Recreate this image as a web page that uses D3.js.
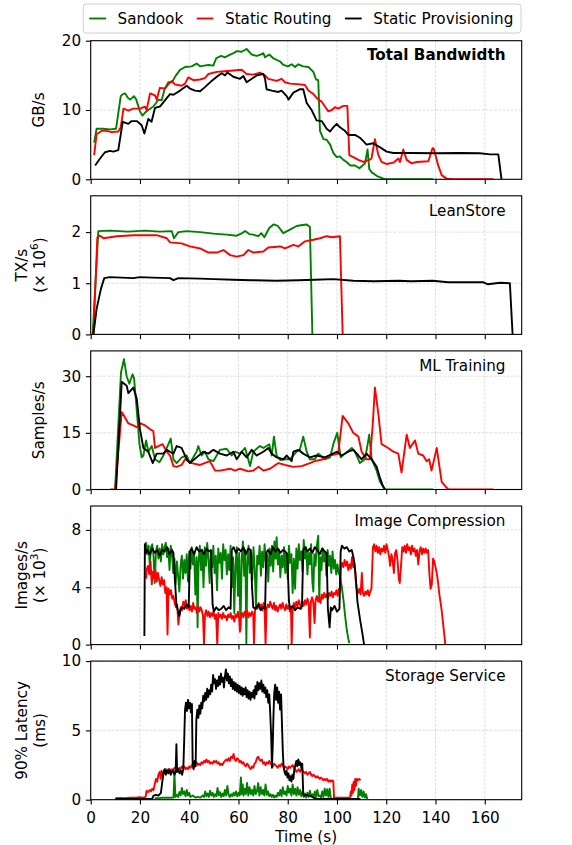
<!DOCTYPE html>
<html>
<head>
<meta charset="utf-8">
<script src="https://cdn.jsdelivr.net/npm/d3@7"></script>
<style>
  body { margin: 0; background: #fff; }
  svg { font-family: "DejaVu Sans", sans-serif; }
</style>
</head>
<body>
<div id="chart"></div>
<script>
// ---- data: [time (s), value] ----
const seriesNames = ["Sandook", "Static Routing", "Static Provisioning"]
const seriesColors = ["green", "red", "black"]
const xTicks = [0, 20, 40, 60, 80, 100, 120, 140, 160]

// Total Bandwidth (GB/s)
const bwSandook = [[1.4,5.3],[2.4,7.3],[5,7.3],[8,7.2],[10.3,7.3],[11.2,9.5],[12.2,12],[13,12.3],[14,12.4],[15,11.8],[16,11.5],[17.6,12],[18.5,11.5],[20,9.8],[21,9.2],[22,9.6],[23.4,10],[25.4,10.5],[26.5,11],[27.5,11.5],[28.8,11.4],[30,13],[31.5,14],[33,14],[34.6,15],[36.3,15.8],[38.3,16.2],[41,16.3],[43,16.7],[44.4,16.3],[46,16.4],[47.8,16.5],[49.8,16.4],[51,17.5],[53,17.8],[54.5,17.6],[56.6,18],[58,18.2],[59.3,18.5],[61.3,18.4],[63.3,18.8],[65.4,18],[67.4,17.8],[69,18],[70.1,18.2],[70.8,17.6],[72.5,18],[74,17.5],[76.9,17],[78.2,16.5],[80.2,16.3],[81.6,16.6],[83,16.2],[84.3,16.6],[86.3,16.3],[88.4,16.2],[90.4,15.5],[91.5,14.4],[92.4,14.3],[93.1,7],[94.5,5.8],[95.8,5.7],[97.2,5],[98.5,3.8],[99.9,3.2],[101.2,3.3],[102.6,2.8],[103.9,2.5],[105.3,2.0],[107.3,2.0],[109.1,1.6],[110.4,2.0],[111.4,2.3],[112.4,4.3],[113.1,1.5],[114.1,1.0],[116.1,0.5],[118.8,0.1],[120.2,0],[139,0]]
const bwRouting = [[1.4,3.5],[2.4,6.5],[4.5,7],[6.5,7],[8.5,6.8],[11.2,6.9],[12.2,7.5],[13.3,10.2],[15.3,9.9],[17.3,10.2],[20,10.2],[22,10.5],[22.7,10],[24.1,12.4],[26.1,12.1],[26.8,11.5],[28.1,13.2],[30.2,13.1],[31.5,13.7],[32.9,14.2],[34.2,13.7],[36.9,13.5],[38.3,13.8],[39.6,14.7],[41.7,14.3],[44.4,14.4],[46.4,14.6],[47.8,15.2],[51.2,15.5],[54.5,15.6],[57.9,15.7],[61.3,15.8],[63.3,15.2],[66,15.1],[68.7,15.4],[70.8,15],[72.1,14.5],[75.5,14.2],[77.5,14.5],[78.9,14],[80.9,13.8],[85,13.7],[87,13.6],[88.4,12.8],[90.4,12.3],[92.4,11.5],[93.8,11.2],[95.1,10.5],[96.5,9.8],[97.9,10],[99.2,10.4],[100.5,10.2],[102.6,10.6],[104.2,10.6],[105,3.5],[106.6,3.2],[108.7,2.8],[110.7,2.5],[113.1,2.8],[114,3],[115.4,5.8],[116.8,3.5],[118.1,2.5],[120.2,2.2],[122.9,2.4],[124.9,3.0],[125.6,2.5],[126.9,4.3],[128.3,2.8],[130.3,2.3],[132.3,2.5],[137.1,2.6],[138.8,4.5],[139.3,4.4],[141.1,2],[142.5,0.6],[144.5,0.1],[147.3,0],[163.5,0]]
const bwProvisioning = [[1.8,2.0],[3.8,3.0],[5.8,3.9],[7.8,4.1],[9.2,4.0],[11.2,4.2],[13,8.3],[15.3,8.0],[16.6,8.4],[18.7,8.4],[20.7,7.8],[21.8,6.6],[23.4,8.7],[24.7,8.3],[26.1,10.3],[28.1,10.5],[32.2,12.3],[33.6,12.2],[36.3,12.8],[39,13.5],[40.3,13.1],[42.4,12.8],[44.4,12.7],[46.4,13.3],[49.1,14.2],[51.2,14.8],[53.2,15.3],[54.5,15],[55.5,15.4],[57.9,14.8],[60.6,14.5],[62,14.9],[63.3,14],[65.4,14.5],[67.4,15],[70.1,15.2],[70.8,14.5],[71.4,13],[73.5,12.8],[76.2,12.6],[77.5,12.8],[79.6,12],[80.3,11.5],[82.3,12.5],[85,13],[86.3,13],[87.7,11],[89.7,10],[91.7,8.5],[93.8,8.4],[95.8,7.3],[97.2,6.9],[98.5,7.5],[99.9,8.0],[101.2,7.5],[103.2,7.0],[104.6,6.4],[107.3,6.4],[109.3,6.0],[110.7,5.5],[112,5.0],[114.7,5.2],[117.5,4.6],[120.2,4.0],[122.9,3.8],[130,3.8],[140,3.75],[150,3.8],[158,3.75],[162.1,3.6],[165.5,3.6],[166.8,0]]

// LeanStore (TX/s, x 10^6)
const lsSandook = [[0.8,0],[3.1,2.02],[8,2.03],[15,2.01],[22,2.03],[28,2.01],[32.9,2.02],[33.8,1.88],[35.6,2.0],[39,2.02],[44.4,2.0],[49.8,1.97],[55.2,1.95],[59.3,1.93],[61.5,1.98],[62.7,2.02],[64.5,1.96],[66,1.95],[68,1.92],[69.3,1.98],[70.5,1.9],[72.5,2.08],[74.2,2.15],[76,2.12],[78.2,1.98],[80.9,2.05],[83.6,2.12],[86,2.14],[87.7,2.15],[89,2.1],[90,0]]
const lsRouting = [[1.1,0],[2.7,1.9],[3.8,1.93],[5.2,1.88],[10.6,1.92],[17.3,1.94],[26.8,1.94],[30.9,1.88],[32.2,1.8],[36.9,1.78],[40.3,1.72],[44.4,1.68],[47.8,1.6],[51.2,1.6],[53.9,1.65],[56.6,1.55],[59.3,1.52],[62,1.55],[64,1.65],[66,1.6],[70.1,1.62],[72.1,1.7],[76.9,1.72],[78.9,1.68],[82.3,1.75],[84.3,1.72],[87,1.82],[90.4,1.85],[93.1,1.88],[95.8,1.92],[97.9,1.9],[101.2,1.92],[102.3,0]]
const lsProvisioning = [[1.1,0],[2.4,0.5],[4.2,0.9],[5.5,1.1],[7.8,1.12],[17.3,1.1],[20,1.12],[25,1.11],[32.2,1.1],[33.6,1.06],[35.6,1.1],[44.4,1.09],[50,1.08],[57.9,1.07],[65,1.06],[75.5,1.05],[84.3,1.06],[91,1.07],[98.5,1.08],[106.6,1.05],[115,1.04],[125,1.05],[130,1.04],[139,1.05],[145,1.02],[159.3,1.02],[161.3,0.98],[166.2,1.01],[170.2,1.0],[171.3,0]]

// ML Training (Samples/s)
const mlSandook = [[7.8,0],[9.9,0],[12.3,31],[13.5,34.5],[14.6,30],[15.7,28],[17,30.5],[17.6,29.5],[18.7,21],[19.8,12],[20.7,8.5],[21.4,9],[22.5,13],[23.4,10],[24.8,11.5],[26.1,8],[27.9,7.2],[29.5,9],[30.9,11],[32.5,13.5],[33.6,8],[34.9,7],[37,8.5],[39,9],[40.3,7],[43,10],[43.7,11.5],[45,9],[46.4,10],[47.8,8],[49.8,7.5],[52.5,10.5],[55.2,10.8],[57.2,9],[58.6,10],[60.6,9.5],[62.7,11],[64.7,6.2],[66,10],[68.7,11.5],[70.1,11],[72.5,12],[73.5,9],[74.4,14],[75.5,9],[76.9,7.8],[78.9,8],[80.9,8],[83.6,10],[84.9,10.5],[86.3,14],[87.7,10],[89,8],[91,8],[92.4,9.5],[95.1,8],[97.2,8.5],[98.5,12],[100.1,15],[101.5,8.5],[103.2,9.5],[106,11],[107.3,10],[109.3,7],[111.4,8],[113.1,14.5],[114.1,8],[116.1,5],[117.5,2],[119.5,0],[139,0]]
const mlRouting = [[9.9,0],[12.6,20.5],[14,19],[15.3,17.5],[17.3,17],[18.7,16.5],[20.3,17.5],[22,17],[24,16],[25.4,15.5],[26.1,11],[27.5,11.5],[29.2,12],[30.9,10],[32.2,9],[33.6,6.2],[34.9,6],[36.9,6.5],[38.3,8],[41,7],[44.4,6.5],[48.4,7.5],[50.5,5],[52.5,5],[56.6,5.5],[58.6,5],[60.6,5.5],[64,4.8],[66,5],[68.1,6],[70.1,5],[72.8,5.5],[76.2,7],[78.9,6.5],[82.3,6],[85.7,6.2],[89,7],[91,7.5],[94.4,8],[97.2,9],[100.5,9.5],[102.3,19.5],[104.6,17.5],[106.6,15],[108.7,14],[110,10],[112,8],[113.4,8],[114.5,17],[115.4,27],[116.8,20],[118.1,12],[120.8,11],[122.9,10],[124.9,9.5],[126.2,4.5],[128.3,14.5],[129.6,11],[131.7,13],[133,9.5],[135,9],[136.4,7.5],[137.4,8],[138.4,5],[140.5,11],[142.5,2],[143.8,1],[145.2,0],[163.5,0]]
const mlProvisioning = [[10.3,0],[12.6,28.5],[14.6,27.5],[15.3,25.5],[17.3,27],[18.7,24],[20,16],[21.4,11],[23.4,10],[25.2,7],[26.8,9.5],[29.5,9.5],[30.9,10.5],[32.2,10],[33.6,9.5],[34.9,11.5],[36.9,11],[39,8],[40.3,7],[43,8.5],[45.7,10],[47.8,9.5],[49.8,10.5],[52.5,9.5],[55.2,9],[57.9,10],[59.3,8],[61.3,10],[63.3,8.5],[65.4,10.5],[67.4,9],[70.1,10],[72.1,11],[73.5,9.5],[75.5,8.5],[78.2,8],[79.6,9],[81.6,7.5],[82.3,10],[84.3,10.5],[86.3,9.5],[89,8.5],[91.7,9],[95.1,8.5],[99.9,10],[101.9,9],[104.6,10],[106.6,10.5],[108.7,9],[110,8],[112,9.5],[114.1,8],[116.1,6],[117.5,3],[118.6,1],[119.5,0]]

// Image Compression (Images/s, x 10^3)
const icSandook = [[22,6.8],[22.5,7.1],[23,6.3],[23.5,6.9],[24,5.5],[24.5,6.8],[25,7.0],[25.5,6.2],[26,4.3],[26.5,6.5],[27,6.9],[27.5,6.0],[28,6.7],[28.5,5.8],[29,7.0],[29.5,6.3],[30,6.8],[30.5,7.1],[31,6.1],[31.5,6.7],[32,5.2],[32.5,6.9],[33,6.4],[33.5,5.0],[34,6.0],[34.5,4.2],[35,5.8],[35.5,4.8],[36,3.7],[36.5,5.5],[37,6.2],[37.5,4.6],[38,5.9],[38.5,5.0],[39,6.3],[39.5,4.4],[40,6.5],[40.5,5.3],[41,6.8],[41.5,5.6],[42,6.4],[42.5,3.5],[43,6.1],[43.4,1.2],[43.8,5.8],[44.3,6.9],[44.8,5.2],[45.3,6.6],[45.8,4.0],[46.3,6.8],[46.8,5.5],[47.3,7.1],[47.8,6.0],[48.3,4.3],[48.8,6.5],[49.3,5.4],[49.8,6.9],[50.3,5.0],[50.8,6.2],[51.3,3.8],[51.8,6.7],[52.3,5.7],[52.8,6.4],[53.3,4.6],[53.8,7.0],[54.3,5.9],[54.8,6.6],[55.3,4.9],[55.8,6.3],[56.3,5.2],[56.8,6.9],[57.3,4.0],[57.8,6.1],[58.3,2.2],[58.8,5.6],[59.3,6.8],[59.8,3.4],[60.3,6.4],[60.8,1.0],[61.3,5.9],[61.8,7.2],[62.3,4.8],[62.8,6.6],[63.2,0],[63.6,5.5],[64.1,6.9],[64.6,5.0],[65.1,6.4],[65.6,4.5],[66.1,6.8],[66.6,5.3],[67.1,2.6],[67.6,6.2],[68.1,5.6],[68.6,6.9],[69.1,4.8],[69.6,6.5],[70.1,5.4],[70.6,7.0],[71.1,5.8],[71.6,6.3],[72.1,4.4],[72.6,6.7],[73.1,5.5],[73.6,6.9],[74.1,5.1],[74.6,7.2],[75.1,6.0],[75.5,7.5],[76,5.6],[76.5,6.6],[77,4.7],[77.5,6.2],[78,5.4],[78.5,6.8],[79,5.0],[79.5,6.4],[80,4.6],[80.5,6.9],[81,5.7],[81.5,6.3],[82,3.6],[82.5,6.0],[83,3.9],[83.5,6.7],[84,5.3],[84.5,7.0],[85,5.9],[85.5,6.5],[86,5.1],[86.5,7.3],[87,6.0],[87.5,6.8],[88,4.9],[88.5,6.4],[89,5.6],[89.5,7.0],[90,4.4],[90.4,3.7],[90.8,6.3],[91.3,5.5],[91.8,6.9],[92.4,7.6],[92.8,3.0],[93.2,6.1],[93.7,5.2],[94.2,6.7],[94.7,5.8],[95.2,6.4],[95.7,4.8],[96.2,6.6],[96.7,5.5],[97.2,6.2],[97.7,5.0],[98.2,6.5],[98.7,5.3],[99.2,5.9],[99.7,4.9],[100.2,5.6],[100.7,5.0],[101.2,4.8],[102,4.0],[102.7,3.0],[103.3,2.0],[104,1.0],[104.6,0.4],[105,0.1]]
const icRouting = [[22.5,4.6],[22.8,5.3],[23.3,5.5],[23.8,4.9],[24.3,5.8],[24.8,4.2],[25.3,5.1],[25.8,4.6],[26.3,5.2],[26.8,4.4],[27.3,5.0],[27.8,4.5],[28.3,4.1],[28.8,4.7],[29.3,4.2],[29.8,4.5],[30.3,3.6],[30.8,4.0],[31.2,0.7],[31.6,3.9],[32.1,3.5],[32.6,3.8],[33.1,3.2],[33.6,3.4],[34.1,2.9],[34.6,2.6],[35.1,2.8],[35.6,1.4],[36.1,2.3],[36.6,2.6],[37.1,2.4],[37.6,3.0],[38.1,2.7],[38.6,3.1],[39.1,2.5],[39.6,2.8],[40.1,2.4],[40.6,2.7],[41.1,2.3],[41.6,2.9],[42.1,2.5],[42.6,2.6],[43.1,2.2],[43.6,2.7],[44.1,2.3],[44.6,2.6],[45.1,2.4],[45.6,2.0],[46.0,0],[46.4,2.1],[46.9,2.4],[47.4,2.0],[47.9,2.3],[48.4,1.9],[48.9,2.2],[49.4,2.0],[49.9,2.3],[50.4,1.8],[50.9,2.1],[51.4,0],[51.8,2.2],[52.3,1.9],[52.8,2.1],[53.3,1.8],[53.8,2.2],[54.3,1.9],[54.8,2.0],[55.3,1.7],[55.8,2.1],[56.3,1.9],[56.8,2.2],[57.3,1.8],[57.8,2.0],[58.3,1.6],[58.8,2.1],[59.3,1.9],[59.8,2.3],[60.3,1.8],[60.6,0.9],[61,2.0],[61.5,2.2],[62,1.9],[62.5,2.3],[63,2.0],[63.5,2.4],[64,1.9],[64.5,2.2],[65,2.0],[65.5,2.3],[66,2.1],[66.3,0],[66.7,2.4],[67.2,2.7],[67.7,2.5],[68.2,2.9],[68.7,2.6],[69.2,2.8],[69.7,2.4],[70.2,2.9],[70.6,2.6],[71,0],[71.4,2.5],[71.9,2.8],[72.4,2.6],[72.9,3.0],[73.4,2.7],[73.9,2.5],[74.4,2.9],[74.9,2.4],[75.4,2.7],[75.9,2.3],[76.4,2.6],[76.9,2.8],[77.4,2.5],[77.9,2.9],[78.4,2.6],[78.9,2.4],[79.4,2.8],[79.9,2.5],[80.4,2.7],[80.9,2.3],[81.3,2.6],[81.6,0],[82,2.5],[82.5,2.9],[83,2.6],[83.5,3.0],[84,2.7],[84.5,3.1],[85,2.8],[85.5,2.5],[86,3.0],[86.5,2.7],[87,3.1],[87.5,2.8],[88,3.2],[88.5,2.9],[89,0.5],[89.4,3.0],[89.9,3.3],[90.4,2.9],[90.9,1.5],[91.3,3.1],[91.8,3.4],[92.3,3.0],[92.8,3.3],[93.3,2.9],[93.8,3.5],[94.3,3.2],[94.8,3.6],[95.3,3.3],[95.8,3.5],[96.3,3.2],[96.8,3.6],[97.3,3.4],[97.8,3.7],[98.3,3.3],[98.8,3.6],[99.3,3.5],[99.8,3.8],[100.3,3.4],[100.8,3.9],[101.3,3.7],[101.6,5.4],[102.1,5.7],[102.6,5.4],[103.1,5.9],[103.6,5.5],[104.1,5.8],[104.6,5.2],[105.1,5.6],[105.6,5.3],[106.1,6.1],[106.6,5.4],[107.1,5.7],[107.6,4.5],[108.1,3.8],[108.6,3.6],[109.1,3.9],[109.6,3.5],[110.1,5.0],[110.5,3.6],[111,3.4],[111.5,3.7],[112,3.5],[112.5,3.8],[113,3.4],[113.5,3.7],[114,3.9],[114.6,6.8],[115.1,7.0],[115.6,6.5],[116.1,6.9],[116.6,6.4],[117.1,6.8],[117.6,6.3],[118.1,6.7],[118.6,6.5],[119.1,6.9],[119.6,6.4],[120.1,7.0],[120.6,6.6],[121.1,6.2],[121.6,5.5],[122.1,6.3],[122.6,5.9],[123.1,5.0],[123.6,6.4],[124.1,6.6],[124.6,5.8],[125.1,4.6],[125.5,4.3],[126,5.5],[126.5,6.8],[127,6.5],[127.5,6.9],[128,6.4],[128.5,7.0],[129,6.6],[129.5,6.8],[130,6.3],[130.5,6.9],[131,6.5],[131.5,6.7],[132,6.2],[132.5,6.6],[133,5.6],[133.5,6.5],[134,6.8],[134.5,6.3],[135,6.7],[135.5,6.4],[136,6.7],[136.5,6.4],[137,6.6],[137.5,5.0],[138,3.9],[138.5,4.2],[139,6.0],[139.5,5.8],[140,5.4],[140.5,5.0],[141,4.4],[141.5,3.6],[142,3.0],[142.5,2.4],[143,1.6],[143.5,0.8],[144,0]]
const icProvisioning = [[21.8,0.6],[22.0,7.0],[22.5,6.4],[23,6.6],[24,6.3],[25,6.7],[26,6.4],[27,6.6],[28,6.2],[29,6.6],[30,6.5],[31,6.8],[32,6.3],[33,6.6],[33.6,6.4],[34.2,4.5],[34.8,2.8],[35.5,2.3],[36,2.0],[36.5,2.4],[37,2.6],[38,2.5],[39,2.8],[39.8,2.6],[40.3,6.5],[41,6.7],[42,6.3],[43,6.8],[44,6.5],[45,6.6],[46,6.3],[47,6.7],[48,6.5],[48.8,6.6],[49.5,2.8],[50,2.3],[51,2.6],[52,2.4],[53,2.5],[54,2.7],[55,2.4],[56,2.6],[56.8,2.5],[57.3,6.6],[58,6.8],[59,6.4],[60,6.7],[61,6.5],[62,6.8],[63,6.3],[64,6.7],[65,6.6],[65.5,4.0],[66,2.6],[67,2.5],[68,2.8],[69,2.4],[70,2.6],[70.8,2.5],[71.3,6.4],[72,6.6],[73,6.3],[74,6.8],[75,6.5],[76,6.7],[77,6.4],[78,6.6],[79,6.5],[79.8,6.3],[80.5,3.0],[81,2.5],[82,2.7],[83,2.4],[84,2.6],[85,2.5],[85.8,2.7],[86.3,6.6],[87,6.8],[88,6.5],[89,6.7],[90,6.4],[91,6.8],[92,6.6],[93,6.3],[94,6.7],[95,6.5],[95.8,6.4],[96.3,2.5],[97,1.2],[97.5,2.6],[98,2.4],[99,2.7],[100,2.3],[101,2.5],[101.5,6.5],[102,6.9],[103,6.7],[104,6.8],[105,6.5],[106,6.6],[106.8,6.0],[107.5,5.0],[108.3,3.0],[109.5,1.6],[110.3,0.8],[111,0]]

// Storage Service (90% latency, ms)
const ssSandook = [[26,0.1],[28,0.12],[30,0.15],[32,0.14],[33.6,0.15],[34,1.9],[34.4,0.2],[35,0.35],[35.5,0.2],[36,0.55],[36.5,0.3],[37,0.85],[37.5,0.4],[38,0.6],[38.5,0.25],[39,0.7],[39.5,0.3],[40,0.5],[40.5,0.2],[41.5,0.3],[42.5,0.15],[43.5,0.2],[44.5,0.15],[45.5,0.3],[46,0.2],[46.5,0.6],[47,0.25],[47.5,0.45],[48,0.2],[48.5,0.65],[49,0.3],[49.5,0.5],[50,0.2],[50.5,0.4],[51,0.25],[51.5,0.85],[52,0.3],[52.5,0.55],[53,0.2],[53.5,0.45],[54,0.25],[54.5,0.7],[55,0.3],[55.5,1.0],[56,0.35],[56.5,0.2],[57,0.4],[57.5,0.25],[58,0.5],[58.5,0.3],[59,0.6],[59.5,0.25],[60,0.5],[60.5,0.3],[61,1.6],[61.3,0.4],[61.7,1.1],[62.1,0.3],[62.5,0.8],[63,0.4],[63.5,1.2],[64,0.3],[64.5,0.9],[65,0.4],[65.5,0.7],[66,0.3],[66.5,1.0],[67,0.4],[67.5,0.6],[68,1.2],[68.5,0.3],[69,0.9],[69.5,0.4],[70,0.7],[70.5,0.3],[71,1.1],[71.5,0.35],[72,0.6],[72.5,0.25],[73,0.4],[73.5,0.2],[74,0.35],[74.5,0.15],[75,0.3],[75.5,0.2],[76,0.5],[76.5,0.3],[77,0.7],[77.5,0.25],[78,0.9],[78.5,0.4],[79,0.6],[79.5,0.3],[80,1.0],[80.5,0.5],[81,0.8],[81.5,0.3],[82,1.1],[82.5,0.4],[83,0.8],[83.5,0.3],[84,0.9],[84.5,0.35],[85,0.7],[85.5,0.25],[86,0.6],[86.5,0.2],[87,0.45],[87.5,0.15],[88,0.5],[88.5,0.2],[89,0.65],[89.5,0.25],[90,0.4],[90.5,0.15],[91,0.6],[91.5,0.2],[92,0.7],[92.5,0.25],[93,0.3],[93.5,0.15],[94,0.6],[94.5,0.2],[95,0.8],[95.5,0.3],[96,0.75],[96.5,0.2],[97,0.8],[97.5,0.1],[98,0.05],[103,0.05],[108.5,0.05],[108.8,0.8],[109.3,0.3],[109.8,0.7],[110.3,0.2],[110.8,0.6],[111.3,0.15],[111.8,0.4],[112.3,0.05]]
const ssRouting = [[10,0.1],[12,0.12],[14,0.1],[16,0.14],[18,0.15],[20,0.18],[21,0.15],[22.3,0.2],[22.7,0.65],[23.3,0.55],[24,0.7],[24.5,0.6],[25,0.8],[25.5,0.7],[26,1.1],[26.5,1.5],[27,1.3],[27.5,1.8],[28,2.0],[28.4,1.5],[28.8,2.1],[29.2,1.8],[29.6,2.0],[30,1.9],[30.5,2.2],[31,2.0],[31.5,2.2],[32,2.1],[32.5,2.0],[33,2.2],[33.5,2.1],[34,2.3],[34.5,2.2],[35,2.3],[35.5,2.1],[36,2.3],[36.5,2.2],[37,2.4],[37.5,2.3],[38,2.4],[38.5,2.2],[39,2.3],[39.5,2.2],[40,2.4],[40.5,2.3],[41,2.5],[41.5,2.3],[42,2.4],[42.5,2.6],[43,2.7],[43.5,2.5],[44,2.6],[44.5,2.5],[45,2.7],[45.5,2.6],[46,2.8],[46.5,2.7],[47,2.9],[47.5,2.7],[48,2.8],[48.5,2.6],[49,2.7],[49.5,2.6],[50,2.8],[50.5,2.7],[51,2.8],[51.5,2.6],[52,2.7],[52.5,2.5],[53,2.6],[53.5,2.5],[54,2.7],[54.5,2.8],[55,2.9],[55.5,2.8],[56,3.0],[56.5,2.8],[57,3.1],[57.5,3.0],[58,3.3],[58.5,2.9],[59,2.8],[59.5,3.0],[60,2.9],[60.5,2.7],[61,2.8],[61.5,2.6],[62,2.7],[62.5,2.5],[63,2.4],[63.5,2.6],[64,2.5],[64.5,2.3],[65,2.2],[65.5,2.4],[66,2.3],[66.5,2.6],[67,2.7],[67.5,3.0],[68,3.1],[68.5,2.9],[69,2.8],[69.5,2.9],[70,2.6],[70.5,2.7],[71,2.5],[71.5,2.7],[72,2.6],[72.5,2.8],[73,2.6],[73.5,2.5],[74,2.4],[74.5,2.6],[75,2.5],[75.5,2.4],[76,2.3],[76.5,2.5],[77,2.4],[77.5,2.6],[78,2.5],[78.5,2.3],[79,2.4],[79.5,2.3],[80,2.2],[80.5,2.4],[81,2.3],[81.5,2.4],[82,2.5],[82.5,2.3],[83,2.2],[83.5,2.0],[84,2.1],[84.5,2.2],[85,2.0],[85.5,2.2],[86,2.1],[86.5,2.0],[87,1.9],[87.5,2.0],[88,1.8],[88.5,1.9],[89,2.0],[89.5,1.8],[90,1.7],[90.5,1.8],[91,1.7],[91.5,1.6],[92,1.7],[92.5,1.6],[93,1.5],[93.5,1.6],[94,1.5],[94.5,1.4],[95,1.5],[95.5,1.4],[96,1.5],[96.5,1.3],[97,1.4],[97.5,1.3],[98,1.4],[98.5,1.35],[98.8,0.15],[100,0.14],[102,0.15],[104,0.14],[105.3,0.15],[105.6,0.6],[105.9,0.3],[106.2,1.1],[106.5,0.5],[106.8,1.3],[107.1,0.7],[107.4,1.5],[107.7,1.0],[108,1.5],[108.5,1.4],[109,1.5],[109.6,1.4]]
const ssProvisioning = [[10,0.05],[15,0.05],[20,0.05],[25,0.08],[25.5,0.3],[26.5,0.35],[27.5,0.3],[28.5,0.5],[29,1.2],[29.5,1.9],[30,2.2],[30.5,1.8],[31,2.1],[31.5,1.9],[32,2.2],[32.5,1.8],[33,2.0],[33.5,2.1],[34,1.8],[34.5,2.0],[34.8,4.0],[35.1,2.0],[35.6,2.2],[36.1,1.9],[36.6,2.1],[37.1,1.8],[37.6,2.2],[38,4.5],[38.3,6.5],[38.7,7.0],[39.1,6.4],[39.5,7.2],[39.9,6.6],[40.3,7.0],[40.7,6.3],[41.1,6.9],[41.4,2.6],[41.8,2.2],[42.2,2.8],[42.6,2.4],[42.9,5.8],[43.3,6.5],[43.7,5.9],[44.1,6.8],[44.5,6.2],[44.9,7.0],[45.3,6.6],[45.7,7.5],[46.1,7.1],[46.5,7.7],[46.9,7.2],[47.3,8.0],[47.7,7.4],[48.1,7.9],[48.5,7.6],[48.9,8.3],[49.3,7.8],[49.7,9.0],[50.1,8.4],[50.5,8.7],[50.9,8.0],[51.3,8.6],[51.7,8.2],[52.1,8.9],[52.5,8.3],[52.9,9.1],[53.3,8.5],[53.7,8.8],[54.1,8.1],[54.5,8.9],[54.9,9.4],[55.3,8.6],[55.7,9.1],[56.1,8.4],[56.5,8.9],[56.9,8.2],[57.3,8.7],[57.7,8.0],[58.1,8.5],[58.5,7.9],[58.9,8.4],[59.3,7.8],[59.7,8.3],[60.1,7.7],[60.5,8.2],[60.9,7.6],[61.3,8.1],[61.7,7.5],[62.1,8.0],[62.5,7.6],[62.9,8.1],[63.3,7.4],[63.7,7.9],[64.1,7.3],[64.5,7.8],[64.9,7.2],[65.3,7.7],[65.7,7.4],[66.1,7.9],[66.5,7.3],[66.9,8.2],[67.3,7.6],[67.7,8.5],[68.1,7.9],[68.5,8.4],[68.9,8.0],[69.3,8.6],[69.7,7.8],[70.1,8.3],[70.5,7.7],[70.9,8.1],[71.3,7.4],[71.7,7.9],[72.1,7.0],[72.5,7.6],[72.9,6.2],[73.3,4.5],[73.6,2.3],[73.9,3.8],[74.2,6.0],[74.5,7.6],[74.9,8.3],[75.3,7.2],[75.7,8.1],[76.1,7.0],[76.5,7.8],[76.9,6.5],[77.3,7.6],[77.7,5.2],[78,3.5],[78.3,2.4],[78.7,2.0],[79.1,1.8],[79.5,2.1],[79.9,1.6],[80.3,1.9],[80.7,1.4],[81.1,1.7],[81.5,1.3],[81.9,1.8],[82.3,1.5],[82.7,2.2],[83.1,2.5],[83.5,2.8],[83.9,2.4],[84.3,2.9],[84.7,2.5],[85.1,2.7],[85.5,2.3],[85.9,2.6],[86.3,0.4],[86.8,0.3],[87.5,0.35],[88.5,0.3],[89.5,0.25],[90.5,0.15],[91.5,0.08],[93,0.05],[100,0.05],[109.5,0.05]]

// y tick labels per panel
const yTicksBW = [0, 10, 20]
const yTicksLS = [0, 1, 2]
const yTicksML = [0, 15, 30]
const yTicksIC = [0, 4, 8]
const yTicksSS = [0, 5, 10]

// ---- layout ----
const W = 572, H = 845
const left = 90.7, right = 521.7
const top0 = 40.7, step = 155.1, ph = 138.6
const fs = 15.2

const panels = [
  {title: "Total Bandwidth", bold: true, label: ["GB/s"], yMax: 20, ticks: yTicksBW, series: [bwSandook, bwRouting, bwProvisioning]},
  {title: "LeanStore", label: ["TX/s", "6"], yMax: 2.71, ticks: yTicksLS, series: [lsSandook, lsRouting, lsProvisioning]},
  {title: "ML Training", label: ["Samples/s"], yMax: 36.7, ticks: yTicksML, series: [mlSandook, mlRouting, mlProvisioning]},
  {title: "Image Compression", label: ["Images/s", "3"], yMax: 9.67, ticks: yTicksIC, series: [icSandook, icRouting, icProvisioning]},
  {title: "Storage Service", label: ["90% Latency", "ms"], yMax: 10, ticks: yTicksSS, series: [ssSandook, ssRouting, ssProvisioning]}
]

const svg = d3.select("#chart").append("svg")
  .attr("width", W).attr("height", H)
  .style("background", "#fff")

const x = d3.scaleLinear().domain([0, 175]).range([left, right])

panels.forEach(function(p, i) {
  const top = top0 + i * step
  const bottom = top + ph
  const y = d3.scaleLinear().domain([0, p.yMax]).range([bottom, top])
  const g = svg.append("g")

  // grid
  g.append("g").selectAll("line.gx").data(xTicks).join("line")
    .attr("x1", d => x(d)).attr("x2", d => x(d))
    .attr("y1", top).attr("y2", bottom)
    .attr("stroke", "#b0b0b0").attr("stroke-opacity", 0.5)
    .attr("stroke-width", 0.8).attr("stroke-dasharray", "2.9,1.3")
  g.append("g").selectAll("line.gy").data(p.ticks).join("line")
    .attr("x1", left).attr("x2", right)
    .attr("y1", d => y(d)).attr("y2", d => y(d))
    .attr("stroke", "#b0b0b0").attr("stroke-opacity", 0.5)
    .attr("stroke-width", 0.8).attr("stroke-dasharray", "2.9,1.3")

  // lines
  const clipId = "clip" + i
  svg.append("clipPath").attr("id", clipId).append("rect")
    .attr("x", left).attr("y", top - 1).attr("width", right - left).attr("height", ph + 1)
  const line = d3.line().x(d => x(d[0])).y(d => y(d[1]))
  g.append("g").attr("clip-path", "url(#" + clipId + ")")
    .selectAll("path").data(p.series).join("path")
    .attr("d", line)
    .attr("fill", "none")
    .attr("stroke", (d, k) => seriesColors[k])
    .attr("stroke-width", 1.9)
    .attr("stroke-linejoin", "round")

  // axes
  const yAxis = d3.axisLeft(y).tickValues(p.ticks).tickFormat(d3.format("d"))
    .tickSize(4.8).tickPadding(4.7)
  const xAxis = d3.axisBottom(x).tickValues(xTicks).tickFormat(d3.format("d"))
    .tickSize(4.8).tickPadding(7.6)
  const ya = g.append("g").attr("transform", "translate(" + left + ",0)").call(yAxis)
  const xa = g.append("g").attr("transform", "translate(0," + bottom + ")").call(xAxis)
  if (i < panels.length - 1) xa.selectAll(".tick text").remove()
  ;[ya, xa].forEach(function(a) {
    a.select(".domain").remove()
    a.selectAll(".tick line").attr("stroke", "#000").attr("stroke-width", 1.1)
    a.selectAll(".tick text").attr("font-size", fs).attr("fill", "#000")
      .attr("font-family", "DejaVu Sans")
  })

  // frame
  g.append("rect").attr("x", left).attr("y", top)
    .attr("width", right - left).attr("height", ph)
    .attr("fill", "none").attr("stroke", "#000").attr("stroke-width", 1.1)

  // panel title
  g.append("text").attr("x", 505.5).attr("y", top + 14.7)
    .attr("text-anchor", "end").attr("dominant-baseline", "central")
    .attr("font-size", fs).attr("font-weight", p.bold ? "bold" : "normal")
    .text(p.title)

  // y label
  const yc = (top + bottom) / 2
  if (p.label.length === 1) {
    g.append("text").attr("transform", "translate(39," + yc + ") rotate(-90)")
      .attr("text-anchor", "middle").attr("dominant-baseline", "central")
      .attr("font-size", fs).text(p.label[0])
  } else {
    g.append("text").attr("transform", "translate(21.5," + yc + ") rotate(-90)")
      .attr("text-anchor", "middle").attr("dominant-baseline", "central")
      .attr("font-size", fs).text(p.label[0])
    const t2 = g.append("text").attr("transform", "translate(39.5," + yc + ") rotate(-90)")
      .attr("text-anchor", "middle").attr("dominant-baseline", "central")
      .attr("font-size", fs)
    if (p.label[1] === "ms") {
      t2.text("(ms)")
    } else {
      t2.append("tspan").text("(\u00d7 10")
      t2.append("tspan").attr("font-size", fs * 0.7).attr("dy", -6).text(p.label[1])
      t2.append("tspan").attr("dy", 6).text(")")
    }
  }
})

// x label
svg.append("text").attr("x", (left + right) / 2).attr("y", 836.5)
  .attr("text-anchor", "middle").attr("dominant-baseline", "central")
  .attr("font-size", fs).text("Time (s)")

// legend
const lg = svg.append("g")
lg.append("rect").attr("x", 83.3).attr("y", 4).attr("width", 437.7).attr("height", 29)
  .attr("rx", 3).attr("fill", "#fff").attr("fill-opacity", 0.8)
  .attr("stroke", "#d0d0d0").attr("stroke-width", 1)
const legX = [89.3, 196.7, 345]
seriesNames.forEach(function(name, k) {
  lg.append("line").attr("x1", legX[k]).attr("x2", legX[k] + 16.7)
    .attr("y1", 18.5).attr("y2", 18.5)
    .attr("stroke", seriesColors[k]).attr("stroke-width", 1.9)
  lg.append("text").attr("x", legX[k] + 28.3).attr("y", 18.5)
    .attr("dominant-baseline", "central").attr("font-size", fs)
    .text(name)
})
</script>
</body>
</html>
